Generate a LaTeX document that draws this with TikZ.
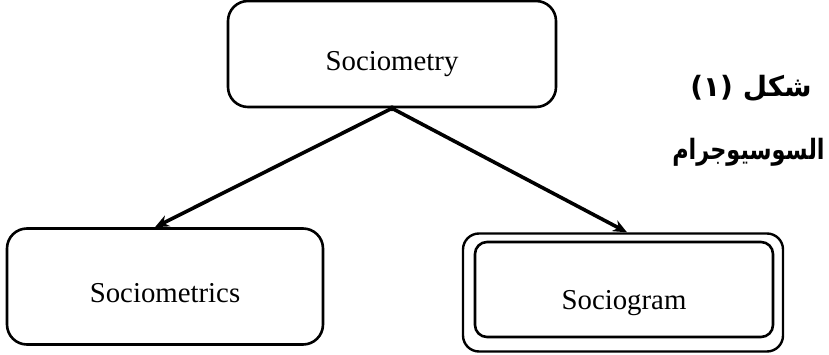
\documentclass[tikz,border=0pt]{standalone}
\usepackage{fontspec}
\setmainfont{Liberation Serif}
\newfontfamily\arabicfont[Script=Arabic]{DejaVu Sans}
\newfontfamily\arabicnarrow[Script=Arabic,FakeStretch=0.8]{DejaVu Sans}
\TeXXeTstate=1
\usetikzlibrary{arrows.meta,shapes}

\begin{document}
\begin{tikzpicture}[x=0.5pt,y=0.5pt]
  \tikzstyle{boxNode} = [draw, line width=1.3pt, rounded corners=10pt, rectangle, inner sep=0pt, text depth=0pt, font={\fontsize{14.4}{17}\selectfont}]
  \tikzstyle{frameNode} = [draw, line width=1.2pt, rounded corners=8pt, rectangle, inner sep=0pt]
  \tikzstyle{arrowEdge} = [line width=1.8pt, -{Stealth[length=7pt, width=6pt]}];
  \tikzstyle{arabicText} = [inner sep=0pt, anchor=east];
  \useasboundingbox (0,0) rectangle (829,354);
  \node[boxNode, name=sociometry, minimum width=164pt, minimum height=53pt, text height=16.5pt] at (392,300) {Sociometry};
  \node[boxNode, name=sociometrics, minimum width=158pt, minimum height=58pt, text height=15.6pt] at (165,67.5) {Sociometrics};
  \node[frameNode, name=sociogramFrame, minimum width=160pt, minimum height=59pt] at (623,61.5) {};
  \node[boxNode, name=sociogram, minimum width=149pt, minimum height=47.5pt, rounded corners=6pt, text height=19.5pt] at (624,64.5) {Sociogram};

  \fill (sociometry.south) circle (3);
  \draw (sociometry.south) 
      edge[arrowEdge] ([xshift=-5pt]sociometrics.north);
  \draw (sociometry.south) 
      edge[arrowEdge] ([xshift=2pt]sociogramFrame.north);

  \node[arabicText, name=figNumber, font={\arabicfont\bfseries\fontsize{14}{17}\selectfont}] at (812,266) {\beginR شكل (١)\endR};
  \node[arabicText, name=figTitle, font={\arabicnarrow\bfseries\fontsize{14}{17}\selectfont}] at (825,202) {\beginR السوسيوجرام\endR};
\end{tikzpicture}
\end{document}
